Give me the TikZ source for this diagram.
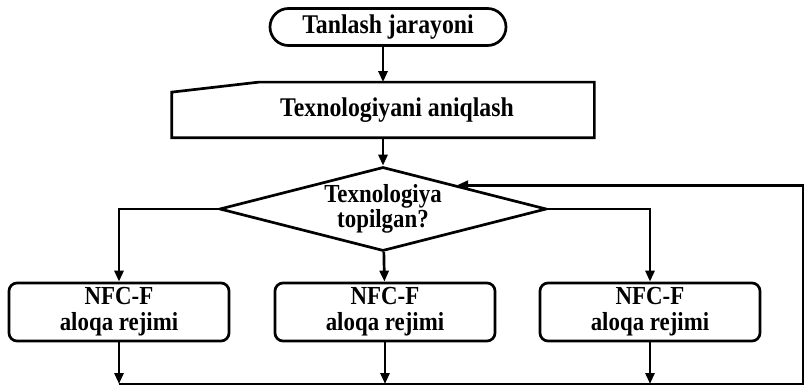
\documentclass[tikz,border=0pt]{standalone}
\usepackage{fontspec}
\setmainfont{Liberation Serif}[FakeStretch=0.88]
\usepackage{tikz}
\usetikzlibrary{arrows.meta,shapes.geometric,shapes.misc,calc}

\begin{document}
\begin{tikzpicture}[
  x=1pt, y=-1pt, line width=2.7pt,
  font=\fontsize{27}{24}\selectfont\bfseries,
  term/.style={draw, rounded rectangle, minimum width=236pt, minimum height=37pt, inner sep=0pt},
  manual/.style={minimum width=420pt, minimum height=53pt, inner sep=0pt},
  decision/.style={draw, diamond, minimum width=327pt, minimum height=84pt, inner xsep=-60pt, inner ysep=-30pt, align=center, font=\fontsize{26}{29}\selectfont\bfseries},
  mode/.style={draw, rounded corners=8pt, minimum width=220pt, minimum height=58pt, align=center, inner sep=0pt, font=\fontsize{26}{26}\selectfont\bfseries},
  arr/.style={-{Triangle[length=11pt, width=9pt]}}
]
\useasboundingbox (0,0) rectangle (806,387);

\node[term]     at (388,27)  (start) {Tanlash jarayoni};
\node[manual]   at (383,110) (input) {\hspace*{28pt}Texnologiyani aniqlash};
\node[decision] at (383,209) (check) {\raisebox{-4pt}{Texnologiya}\\topilgan?};
\node[mode]     at (119,312) (modeA) {NFC-F\\aloqa rejimi};
\node[mode]     at (385,312) (modeB) {NFC-F\\aloqa rejimi};
\node[mode]     at (650,312) (modeC) {NFC-F\\aloqa rejimi};

% manual input outline with the sloped top edge
\draw (input.south west) -- ($(input.north west)+(0,10)$) -- ($(input.north west)+(87,0)$)
  -- (input.north east) -- (input.south east) -- cycle;

\coordinate (back) at (803,384);
\coordinate (hit) at ($(check.north)!0.45!(check.east)$);

\draw[arr] (start.south -| input.north) -- (input.north);
\draw[arr] (input) -- (check);
\draw[arr] (check.west) -| (modeA);
\draw[arr] (check) -- (modeB);
\draw[arr] (check.east) -| (modeC);
\draw[arr] (modeA) -- (modeA |- back);
\draw[arr] (modeB) -- (modeB |- back);
\draw[arr] (modeC) -- (modeC |- back);
\draw[arr] (modeA |- back) -- (back) |- (hit);
\end{tikzpicture}
\end{document}
